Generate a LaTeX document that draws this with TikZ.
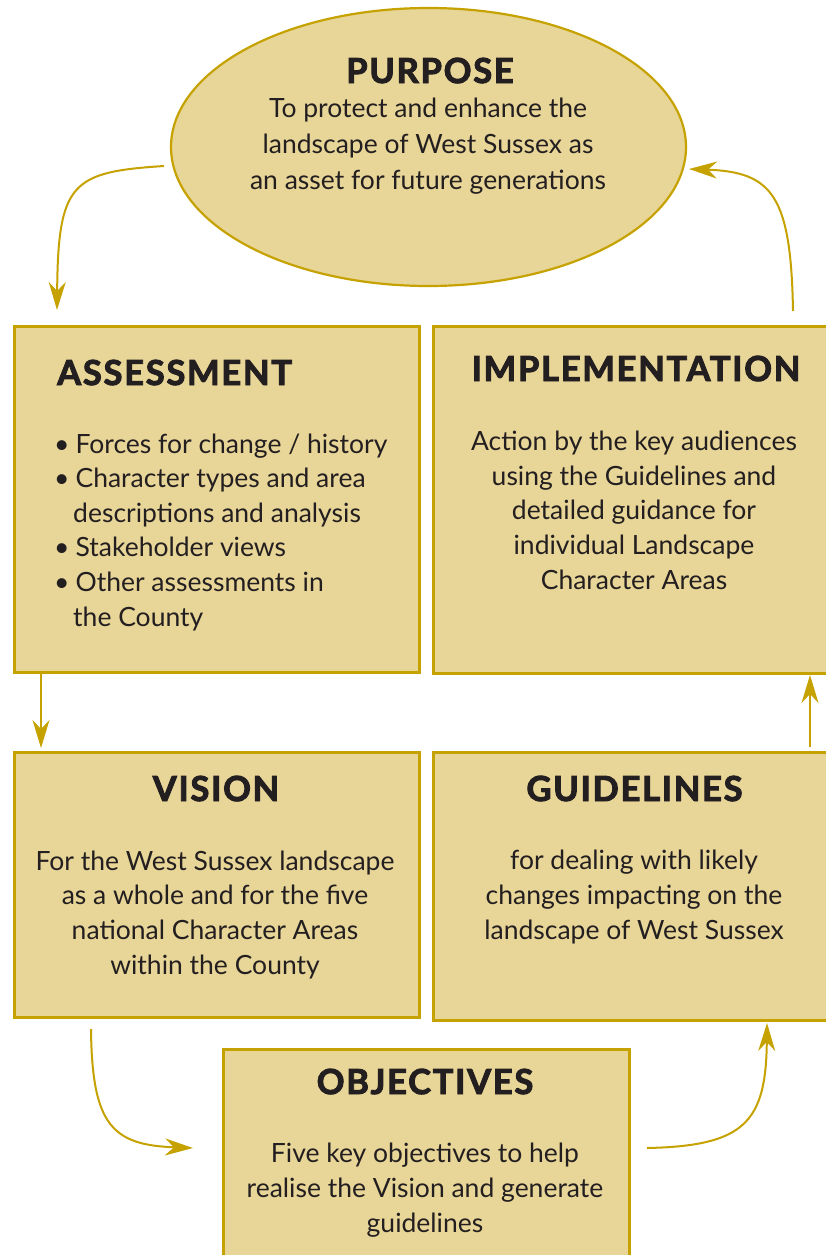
\documentclass[tikz,border=0pt]{standalone}
\usepackage{fontspec}
\setmainfont{Lato}
\newfontfamily\headfam{Lato}[LetterSpace=5,FakeBold=2.8]
\usetikzlibrary{shapes.geometric,arrows.meta}
\definecolor{boxfill}{HTML}{E8D598}
\definecolor{gold}{HTML}{C6A200}
\definecolor{ink}{HTML}{231F20}
\newcommand{\bul}{\hspace*{-3pt}\textbullet\hspace{6pt}}
\tikzset{
  panel/.style={draw=gold, fill=boxfill, line width=2.6pt, inner sep=0pt},
  oval/.style={ellipse, draw=gold, fill=boxfill, line width=2.2pt, inner sep=0pt},
  head/.style={text=ink, inner sep=0pt, font=\headfam\bfseries\fontsize{34.5}{38}\selectfont},
  body/.style={text=ink, inner sep=0pt, align=center, font=\fontsize{26.5}{34.6}\selectfont},
  bodyl/.style={text=ink, inner sep=0pt, align=left, font=\fontsize{26.5}{34.6}\selectfont},
  conn/.style={draw=gold, line width=2pt, -{Stealth[length=28pt,width=17pt,inset=9pt]}}
}
\begin{document}
\begin{tikzpicture}[x=1pt,y=-1pt]
\useasboundingbox (0,0) rectangle (826,1255);
% shapes
\node[oval, minimum width=515pt, minimum height=278pt] (purpose) at (428.5,147) {};
\node[panel, anchor=north west, minimum width=405pt, minimum height=346pt] (assess) at (13,325) {};
\node[panel, anchor=north west, minimum width=400pt, minimum height=347pt] (impl) at (432,325) {};
\node[panel, anchor=north west, minimum width=405pt, minimum height=265pt] (vision) at (13,751) {};
\node[panel, anchor=north west, minimum width=400pt, minimum height=268pt] (guide) at (432,751) {};
\node[panel, anchor=north west, minimum width=406pt, minimum height=215pt] (obj) at (222,1048) {};
% headings
\node[head, anchor=base] (purposeH) at (430,83) {PURPOSE};
\node[head, anchor=base west] (assessH) at (57,385) {ASSESSMENT};
\node[head, anchor=base] (implH) at (636,381) {IMPLEMENTATION};
\node[head, anchor=base] (visionH) at (216,801) {VISION};
\node[head, anchor=base] (guideH) at (634.5,801) {GUIDELINES};
\node[head, anchor=base] (objH) at (425,1094) {OBJECTIVES};
% body texts (anchor base = last line baseline)
\node[body, anchor=base, font=\fontsize{26.5}{36}\selectfont] (purposeT) at (428,189) {To protect and enhance the\\landscape of West Sussex as\\an asset for future generations};
\node[bodyl, anchor=base west] (assessT) at (57,626) {\bul Forces for change / history\\\bul Character types and area\\\hspace*{16pt}descriptions and analysis\\\bul Stakeholder views\\\bul Other assessments in\\\hspace*{16pt}the County};
\node[body, anchor=base] (implT) at (634,589) {Action by the key audiences\\using the Guidelines and\\detailed guidance for\\individual Landscape\\Character Areas};
\node[body, anchor=base] (visionT) at (215,974) {For the West Sussex landscape\\as a whole and for the five\\national Character Areas\\within the County};
\node[body, anchor=base] (guideT) at (634,939) {for dealing with likely\\changes impacting on the\\landscape of West Sussex};
\node[body, anchor=base] (objT) at (425,1232) {Five key objectives to help\\realise the Vision and generate\\guidelines};
% connector ends
\coordinate (c1s) at (164,166);
\coordinate (c1e) at (57,310);
\coordinate (c2s) at (793,311);
\coordinate (c2e) at (689,169);
\coordinate (c3s) at (41,672);
\coordinate (c3e) at (41,748);
\coordinate (c4s) at (810,747);
\coordinate (c4e) at (810,675);
\coordinate (c5s) at (91,1029);
\coordinate (c5e) at (193,1148);
\coordinate (c6s) at (647,1148);
\coordinate (c6e) at (767,1023);
% connectors
\draw[conn] (c1s) .. controls (72,172) and (58,182) .. (c1e);
\draw[conn] (c2s) .. controls (791,195) and (772,172) .. (c2e);
\draw[conn] (c3s) -- (c3e);
\draw[conn] (c4s) -- (c4e);
\draw[conn] (c5s) .. controls (92,1125) and (112,1145) .. (c5e);
\draw[conn] (c6s) .. controls (745,1146) and (766,1122) .. (c6e);
\end{tikzpicture}
\end{document}
